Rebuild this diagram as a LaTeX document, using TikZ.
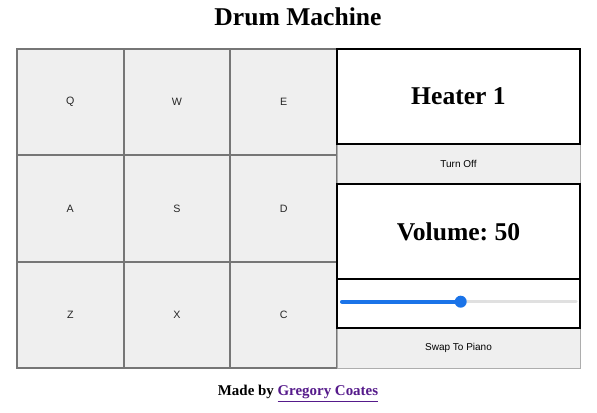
\documentclass[tikz,border=0pt]{standalone}
\usepackage{fontspec}
\setmainfont{Liberation Serif}
\newfontfamily\padfont{Liberation Sans}
\usepackage{tikz}
\usetikzlibrary{positioning}
\definecolor{btngray}{HTML}{EFEFEF}
\definecolor{btnborder}{HTML}{767676}
\definecolor{sliderblue}{HTML}{1A73E8}
\definecolor{linkpurple}{HTML}{551A8B}
\frenchspacing

\begin{document}
\begin{tikzpicture}[x=0.75pt,y=-0.75pt]
\tikzstyle{pad}=[rectangle, draw=btnborder, line width=1.5pt, fill=btngray, inner sep=0pt, outer sep=0pt, minimum width=80pt, minimum height=79.75pt, font=\padfont\fontsize{8}{9}\selectfont, text=black!85]
\tikzstyle{display}=[rectangle, draw=black, line width=0.9pt, fill=white, inner sep=0pt, outer sep=0pt, minimum width=182.25pt, font=\bfseries\fontsize{19.2}{22}\selectfont]
\tikzstyle{button}=[rectangle, draw=btnborder!60, line width=0.6pt, fill=btngray, inner sep=0pt, outer sep=0pt, minimum width=182.25pt, minimum height=30pt, font=\padfont\fontsize{7.5}{9}\selectfont]
\tikzstyle{knob}=[circle, fill=sliderblue, inner sep=0pt, minimum size=9pt]
\tikzstyle{track}=[line width=3pt, line cap=round]
\useasboundingbox[fill=white] (0,0) rectangle (597,413);

\node[font=\bfseries\fontsize{19.2}{22}\selectfont] (title) at (298,17) {Drum Machine};

\node[pad] (Q) at (70.3,102) {Q};
\node[pad] (W) at (177,102) {W};
\node[pad] (E) at (283.7,102) {E};
\node[pad] (A) at (70.3,208.5) {A};
\node[pad] (S) at (177,208.5) {S};
\node[pad] (D) at (283.7,208.5) {D};
\node[pad] (Z) at (70.3,315) {Z};
\node[pad] (X) at (177,315) {X};
\node[pad] (C) at (283.7,315) {C};

\node[button] (power) at (458.5,164) {Turn Off};
\node[button] (swap) at (458.5,348) {Swap To Piano};
\node[display, minimum height=71.25pt] (heater) at (458.5,96.5) {Heater 1};
\node[display, minimum height=71.25pt] (volume) at (458.5,231.5) {Volume: 50};
\node[display, minimum height=36.75pt] (sliderbox) at (458.5,303.5) {};

\coordinate (trackL) at (342,301.7);
\coordinate (trackR) at (576,301.7);
\coordinate (thumb) at (460.7,301.7);
\draw[track, line width=2.6pt, draw=black!12] (thumb) -- (trackR);
\draw[track, draw=sliderblue] (trackL) -- (thumb);
\node[knob] (knob) at (thumb) {};

\node[anchor=base, font=\bfseries\fontsize{11.2}{13}\selectfont] (credit) at (298,396) {Made by \textcolor{linkpurple}{\underline{Gregory Coates}}};
\end{tikzpicture}
\end{document}
